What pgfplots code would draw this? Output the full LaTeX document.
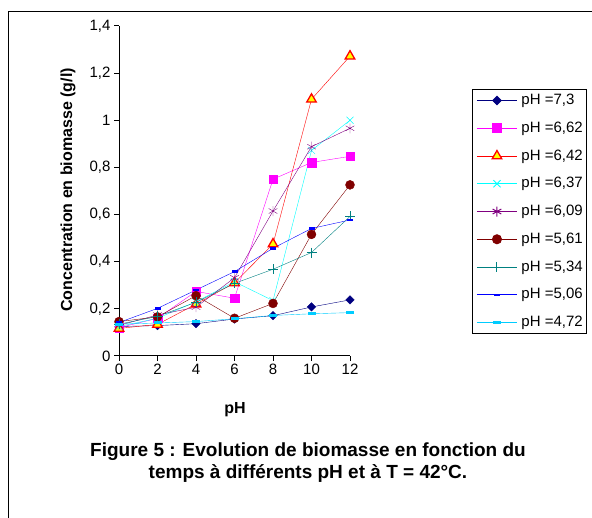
\documentclass[border=0pt]{standalone}
\usepackage{pgfplots}
\pgfplotsset{compat=1.18}
\usepackage{fontspec}
\setmainfont{Liberation Sans}
\definecolor{cnavy}{RGB}{0,0,128}
\definecolor{cmag}{RGB}{255,0,255}
\definecolor{cred}{RGB}{255,0,0}
\definecolor{cyel}{RGB}{255,255,0}
\definecolor{ccyan}{RGB}{0,255,255}
\definecolor{cpurp}{RGB}{128,0,128}
\definecolor{cdred}{RGB}{128,0,0}
\definecolor{cteal}{RGB}{0,128,128}
\definecolor{cblue}{RGB}{0,0,255}
\definecolor{csky}{RGB}{0,204,255}
\begin{document}
\begin{tikzpicture}[x=1bp,y=1bp]
\path[use as bounding box] (0,0) rectangle (592,518);
\draw[line width=1bp] (8,0) -- (8,506.3) -- (592,506.3);
\begin{axis}[
  at={(119bp,162bp)}, anchor=south west,
  scale only axis, width=231bp, height=330bp,
  xmin=0, xmax=12, ymin=0, ymax=1.4,
  clip=false,
  axis lines*=left, axis line style={-, line width=1bp, black},
  tick align=outside, major tick length=5bp,
  tick style={line width=1bp, black},
  xtick={0,2,4,6,8,10,12},
  ytick={0,0.2,0.4,0.6,0.8,1,1.2,1.4},
  /pgf/number format/assume math mode=true,
  /pgf/number format/.cd, use comma, fixed, precision=1, /pgfplots/.cd,
  ticklabel style={font=\fontsize{15bp}{17bp}\selectfont},
  every plot/.append style={line width=1.5bp},
  legend style={at={(1.528,0.809)}, anchor=north west, draw=black, line width=1bp,
    font=\fontsize{15bp}{17bp}\selectfont, inner xsep=4bp, inner ysep=4bp,
    nodes={inner sep=0pt, text height=11bp, text depth=3bp},
    row sep=13.75bp, column sep=4bp},
  legend cell align=left,
  legend image code/.code={\draw[mark repeat=2,mark phase=2] plot coordinates {(0bp,0bp) (20bp,0bp) (40bp,0bp)};},
]
\addplot[color=cnavy, mark=square*, mark size=3bp, mark options={rotate=45, solid, fill=cnavy}]
  coordinates {(0,0.125) (2,0.129) (4,0.137) (6,0.157) (8,0.171) (10,0.208) (12,0.238)};
\addlegendentry{pH =7,3}
\addplot[color=cmag, mark=square*, mark size=4.3bp, mark options={fill=cmag}]
  coordinates {(0,0.12) (2,0.16) (4,0.274) (6,0.245) (8,0.75) (10,0.821) (12,0.847)};
\addlegendentry{pH =6,62}
\addplot[color=cred, mark=triangle*, mark size=5.5bp, mark options={fill=cyel, draw=cred, line width=1.3bp}]
  coordinates {(0,0.117) (2,0.134) (4,0.22) (6,0.31) (8,0.475) (10,1.089) (12,1.272)};
\addlegendentry{pH =6,42}
\addplot[color=ccyan, mark=x, mark size=5bp]
  coordinates {(0,0.125) (2,0.16) (4,0.23) (6,0.315) (8,0.235) (10,0.872) (12,1.0)};
\addlegendentry{pH =6,37}
\addplot[color=cpurp, mark=asterisk, mark size=5bp]
  coordinates {(0,0.13) (2,0.174) (4,0.207) (6,0.332) (8,0.615) (10,0.888) (12,0.966)};
\addlegendentry{pH =6,09}
\addplot[color=cdred, mark=*, mark size=4.5bp, mark options={fill=cdred}]
  coordinates {(0,0.146) (2,0.166) (4,0.256) (6,0.16) (8,0.223) (10,0.516) (12,0.726)};
\addlegendentry{pH =5,61}
\addplot[color=cteal, mark=+, mark size=5bp]
  coordinates {(0,0.135) (2,0.168) (4,0.228) (6,0.308) (8,0.368) (10,0.439) (12,0.592)};
\addlegendentry{pH =5,34}
\addplot[color=cblue, mark=-, mark size=3bp, mark options={line width=2.5bp}]
  coordinates {(0,0.142) (2,0.202) (4,0.28) (6,0.358) (8,0.457) (10,0.541) (12,0.577)};
\addlegendentry{pH =5,06}
\addplot[color=csky, mark=-, mark size=4bp, mark options={line width=3bp}]
  coordinates {(0,0.135) (2,0.14) (4,0.146) (6,0.158) (8,0.172) (10,0.179) (12,0.184)};
\addlegendentry{pH =4,72}
\end{axis}
\node[rotate=90, font=\fontsize{16bp}{18bp}\selectfont\bfseries] at (68,328) {Concentration en biomasse (g/l)};
\node[font=\fontsize{16bp}{18bp}\selectfont\bfseries] at (235,108) {pH};
\node[font=\fontsize{19bp}{21bp}\selectfont\bfseries] at (308,66) {Figure 5 : Evolution de biomasse en fonction du};
\node[font=\fontsize{19bp}{21bp}\selectfont\bfseries] at (308,44) {temps à différents pH et à T = 42°C.};
\end{tikzpicture}
\end{document}
